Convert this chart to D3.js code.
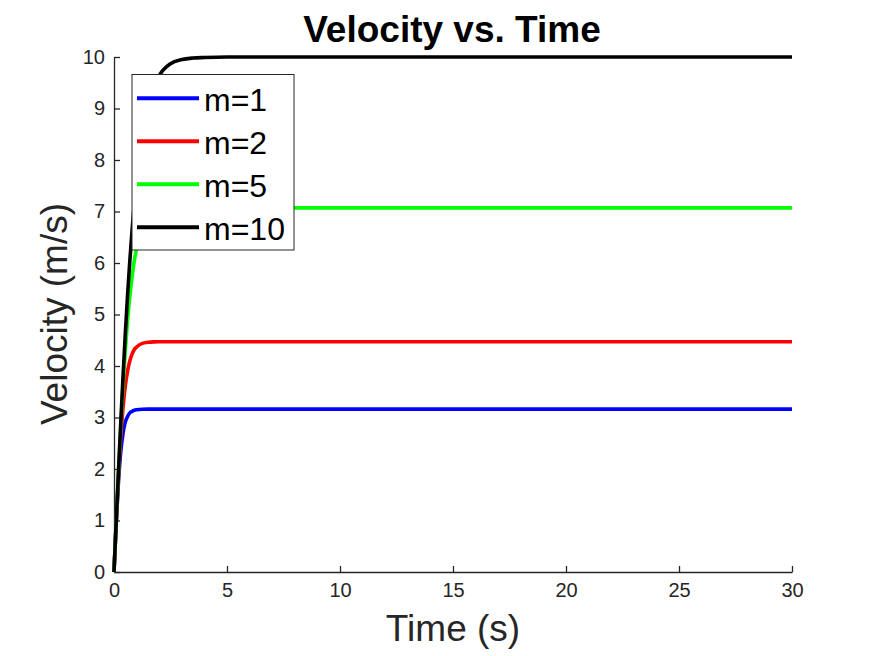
<!DOCTYPE html>
<html>
<head>
<meta charset="utf-8">
<script src="https://cdn.jsdelivr.net/npm/d3@7"></script>
<style>
  body { margin: 0; background: #fff; }
  text { font-family: "Liberation Sans", Arial, sans-serif; }
</style>
</head>
<body>
<svg id="chart" width="875" height="656"></svg>
<script>
// time samples (s)
var time = [0, 0.1, 0.2, 0.3, 0.4, 0.5, 0.6, 0.7, 0.8, 0.9, 1, 1.25, 1.5, 1.75, 2, 2.5, 3, 3.5, 4, 5, 6, 10, 20, 30];

// velocity (m/s)
var velM1 = [0, 0.97, 1.77, 2.34, 2.69, 2.91, 3.02, 3.09, 3.12, 3.14, 3.15, 3.16, 3.162, 3.162, 3.162, 3.162, 3.162, 3.162, 3.162, 3.162, 3.162, 3.162, 3.162, 3.162];
var velM2 = [0, 0.98, 1.88, 2.62, 3.19, 3.61, 3.90, 4.10, 4.23, 4.32, 4.37, 4.44, 4.46, 4.469, 4.471, 4.472, 4.472, 4.472, 4.472, 4.472, 4.472, 4.472, 4.472, 4.472];
var velM5 = [0, 0.99, 1.95, 2.83, 3.62, 4.30, 4.88, 5.35, 5.73, 6.05, 6.28, 6.67, 6.87, 6.97, 7.02, 7.06, 7.068, 7.070, 7.071, 7.071, 7.071, 7.071, 7.071, 7.071];
var velM10 = [0, 1.00, 1.97, 2.91, 3.80, 4.62, 5.37, 6.04, 6.64, 7.16, 7.62, 8.48, 9.05, 9.41, 9.64, 9.87, 9.95, 9.98, 9.99, 10, 10, 10, 10, 10];

var seriesNames = ["m=1", "m=2", "m=5", "m=10"];
var seriesColors = ["#0000ff", "#ff0000", "#00ff00", "#000000"];
var xTicks = [0, 5, 10, 15, 20, 25, 30];
var yTicks = [0, 1, 2, 3, 4, 5, 6, 7, 8, 9, 10];

var allVel = [velM1, velM2, velM5, velM10];
var axisColor = "#262626";

var svg = d3.select("#chart");

var x = d3.scaleLinear().domain([0, 30]).range([114, 792]);
var y = d3.scaleLinear().domain([0, 10]).range([572, 57]);

// axes (MATLAB style, box off, ticks inside)
var xAxis = svg.append("g")
  .attr("transform", "translate(0," + y(0) + ")")
  .call(d3.axisBottom(x).tickValues(xTicks).tickSizeInner(-6).tickSizeOuter(0).tickPadding(11));
var yAxis = svg.append("g")
  .attr("transform", "translate(" + x(0) + ",0)")
  .call(d3.axisLeft(y).tickValues(yTicks).tickSizeInner(-6).tickSizeOuter(0).tickPadding(9));

[xAxis, yAxis].forEach(function(ax) {
  ax.attr("font-size", null).attr("font-family", null);
  ax.select(".domain").attr("stroke", axisColor).attr("stroke-width", 1.3);
  ax.selectAll(".tick line").attr("stroke", axisColor).attr("stroke-width", 1.3);
  ax.selectAll(".tick text")
    .attr("fill", axisColor)
    .style("font-size", "20px")
    .style("font-family", "'Liberation Sans', Arial, sans-serif");
});

// curves
var line = d3.line()
  .x(function(d) { return x(d[0]); })
  .y(function(d) { return y(d[1]); })
  .curve(d3.curveMonotoneX);

allVel.forEach(function(vals, i) {
  var pts = time.map(function(t, j) { return [t, vals[j]]; });
  svg.append("path")
    .datum(pts)
    .attr("fill", "none")
    .attr("stroke", seriesColors[i])
    .attr("stroke-width", 3.6)
    .attr("stroke-linejoin", "round")
    .attr("d", line);
});

// title and axis labels
svg.append("text")
  .attr("x", 452).attr("y", 42)
  .attr("text-anchor", "middle")
  .style("font-size", "37px").style("font-weight", "bold")
  .attr("fill", "#000")
  .text("Velocity vs. Time");

svg.append("text")
  .attr("x", 453).attr("y", 641)
  .attr("text-anchor", "middle")
  .style("font-size", "37px")
  .attr("fill", axisColor)
  .text("Time (s)");

svg.append("text")
  .attr("transform", "translate(67,314) rotate(-90)")
  .attr("text-anchor", "middle")
  .style("font-size", "37px")
  .attr("fill", axisColor)
  .text("Velocity (m/s)");

// legend
var legend = svg.append("g");
legend.append("rect")
  .attr("x", 132).attr("y", 74.5)
  .attr("width", 162).attr("height", 175.5)
  .attr("fill", "#fff")
  .attr("stroke", axisColor)
  .attr("stroke-width", 1);

seriesNames.forEach(function(name, i) {
  var ly = 98.3 + i * 43;
  legend.append("line")
    .attr("x1", 137).attr("x2", 199)
    .attr("y1", ly).attr("y2", ly)
    .attr("stroke", seriesColors[i])
    .attr("stroke-width", 4);
  legend.append("text")
    .attr("x", 204).attr("y", ly + 12.5)
    .style("font-size", "32px")
    .attr("fill", "#000")
    .text(name);
});
</script>
</body>
</html>
